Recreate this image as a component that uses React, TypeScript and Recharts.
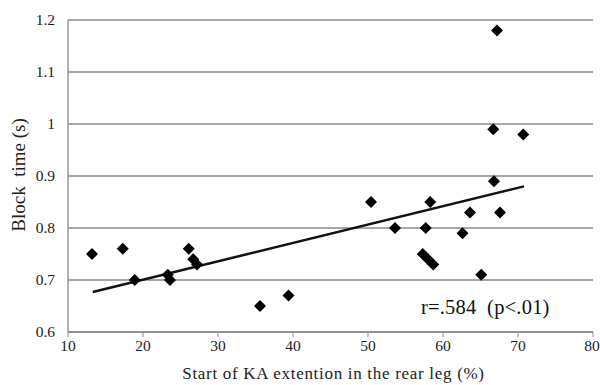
import React from "react";
import {
  ScatterChart,
  Scatter,
  XAxis,
  YAxis,
  CartesianGrid,
  ReferenceLine,
} from "recharts";

// start of KA extension (%) and block time (s)
const kaStart = [
  13.2, 17.3, 18.9, 23.3, 23.6, 26.1, 26.7, 27.2, 35.6, 39.4, 50.4, 53.6,
  57.7, 58.3, 57.3, 58.0, 58.7, 62.6, 63.6, 65.1, 66.7, 66.8, 67.2, 67.6, 70.7,
];
const blockTime = [
  0.75, 0.76, 0.7, 0.71, 0.7, 0.76, 0.74, 0.73, 0.65, 0.67, 0.85, 0.8, 0.8,
  0.85, 0.75, 0.74, 0.73, 0.79, 0.83, 0.71, 0.99, 0.89, 1.18, 0.83, 0.98,
];
const trendX = [13.3, 70.8];
const trendY = [0.677, 0.88];
const xTicks = [10, 20, 30, 40, 50, 60, 70, 80];
const yTicks = [0.6, 0.7, 0.8, 0.9, 1.0, 1.1, 1.2];

const points = kaStart.map((x, i) => ({ x, y: blockTime[i] }));
const FONT = "Liberation Serif";

const Diamond = (props: any) => {
  const { cx, cy } = props;
  const h = 6;
  return (
    <path
      d={`M${cx},${cy - h}L${cx + h},${cy}L${cx},${cy + h}L${cx - h},${cy}Z`}
      fill="#000"
    />
  );
};

const XTick = (props: any) => {
  const { x, y, payload } = props;
  return (
    <text
      x={x}
      y={y + 12}
      textAnchor="middle"
      fontFamily={FONT}
      fontSize={15.5}
      fill="#222"
    >
      {payload.value}
    </text>
  );
};

const YTick = (props: any) => {
  const { x, y, payload } = props;
  return (
    <text
      x={x}
      y={y + 5}
      textAnchor="end"
      fontFamily={FONT}
      fontSize={15.5}
      fill="#222"
    >
      {String(Math.round(payload.value * 10) / 10)}
    </text>
  );
};

export default function App() {
  return (
    <div
      style={{
        position: "absolute",
        left: 0,
        top: 0,
        width: 600,
        height: 385,
        background: "#fff",
        fontFamily: FONT,
      }}
    >
      <ScatterChart
        width={600}
        height={385}
        margin={{ top: 20, right: 7, bottom: 23, left: 18 }}
      >
        <CartesianGrid vertical={false} stroke="#8a8a8a" strokeWidth={1.3} />
        <XAxis
          type="number"
          dataKey="x"
          domain={[10, 80]}
          ticks={xTicks}
          height={30}
          axisLine={{ stroke: "#8a8a8a", strokeWidth: 1.3 }}
          tickLine={{ stroke: "#8a8a8a" }}
          tickSize={5}
          tickMargin={2}
          tick={XTick}
        />
        <YAxis
          type="number"
          dataKey="y"
          domain={[0.6, 1.2]}
          ticks={yTicks}
          width={50}
          axisLine={{ stroke: "#8a8a8a", strokeWidth: 1.3 }}
          tickLine={false}
          tickSize={0}
          tickMargin={13}
          tick={YTick}
        />
        <ReferenceLine
          segment={[
            { x: trendX[0], y: trendY[0] },
            { x: trendX[1], y: trendY[1] },
          ]}
          stroke="#111"
          strokeWidth={2.5}
        />
        <Scatter data={points} shape={Diamond} isAnimationActive={false} />
      </ScatterChart>
      <div
        style={{
          position: "absolute",
          left: 0,
          top: 364,
          width: 600,
          paddingLeft: 67,
          boxSizing: "border-box",
          textAlign: "center",
          fontSize: 17,
          letterSpacing: 0.7,
          color: "#222",
          lineHeight: "20px",
        }}
      >
        Start of KA extention in the rear leg (%)
      </div>
      <div
        style={{
          position: "absolute",
          left: 19,
          top: 175,
          transform: "translate(-50%, -50%) rotate(-90deg)",
          whiteSpace: "pre",
          fontSize: 19,
          color: "#222",
          lineHeight: "22px",
        }}
      >
        {"Block  time (s)"}
      </div>
      <div
        style={{
          position: "absolute",
          left: 421,
          top: 295,
          whiteSpace: "pre",
          fontSize: 20.5,
          letterSpacing: 0.2,
          color: "#111",
          lineHeight: "24px",
        }}
      >
        {"r=.584  (p<.01)"}
      </div>
    </div>
  );
}
